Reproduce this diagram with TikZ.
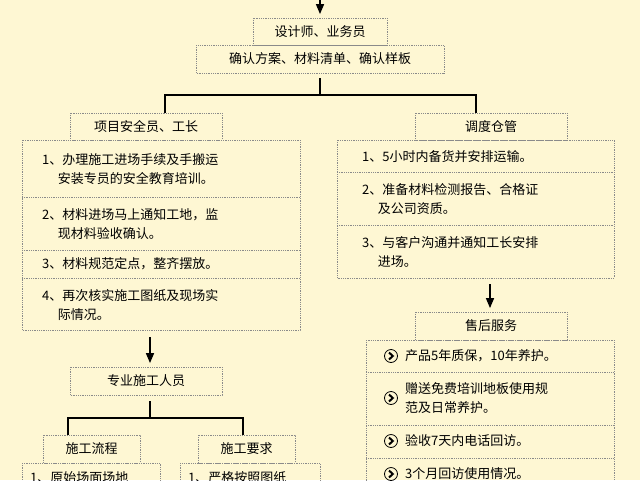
\documentclass[tikz,border=0pt]{standalone}
\usepackage{fontspec}
\setmainfont{Noto Sans CJK SC}
\usetikzlibrary{arrows}
\definecolor{mcream}{HTML}{FEF7D3}
\definecolor{mline}{HTML}{8A8A8A}
\tikzstyle{frame} = [draw=mline, densely dotted, line width=0.8pt]
\tikzstyle{label} = [font=\fontsize{13}{19}\selectfont, inner sep=0pt]
\tikzstyle{item} = [label, anchor=west, align=left]
\tikzstyle{link} = [line width=1.3pt]
\tikzstyle{arrow} = [line width=1.3pt, -triangle 45]
\tikzset{chev/.pic={\draw[line width=0.8pt] (0,0) circle (6.5); \draw[line width=2pt] (-2,-3.5) -- (1.8,0) -- (-2,3.5);}}

\begin{document}
\begin{tikzpicture}[x=1pt,y=-1pt]
  \fill[mcream] (0,0) rectangle (640,480);
  \useasboundingbox (0,0) rectangle (640,480);
  \begin{scope}
  \clip (0,0) rectangle (640,480);
  % top
  \coordinate (start) at (320,0);
  \draw[frame] (253,18) rectangle (387,45);
  \node (des) [label] at (320,31.5) {设计师、业务员};
  \draw[frame] (196,45) rectangle (444,73);
  \node (conf) [label] at (320,59) {确认方案、材料清单、确认样板};
  \draw[arrow] (start) -- (320,14);
  \draw[link] (320,78) -- (320,95);
  \draw[link] (165,113) -- (165,95) -- (476,95) -- (476,113);
  % left column
  \draw[frame] (70,113) rectangle (222,140);
  \node (safe) [label] at (146,126.5) {项目安全员、工长};
  \draw[frame] (22,140) rectangle (300,330);
  \draw[frame] (22,197) -- (300,197) (22,250) -- (300,250) (22,278) -- (300,278);
  \node (l1) [item] at (42,169) {1、办理施工进场手续及手搬运\\\hspace*{1.2em}安装专员的安全教育培训。};
  \node (l2) [item] at (42,224) {2、材料进场马上通知工地，监\\\hspace*{1.2em}现材料验收确认。};
  \node (l3) [item] at (42,264) {3、材料规范定点，整齐摆放。};
  \node (l4) [item] at (42,305) {4、再次核实施工图纸及现场实\\\hspace*{1.2em}际情况。};
  \draw[arrow] (150,337) -- (150,363);
  \draw[frame] (70,367) rectangle (222,395);
  \node (crew) [label] at (146,381) {专业施工人员};
  \draw[link] (150,401) -- (150,418);
  \draw[link] (68,435) -- (68,418) -- (243,418) -- (243,435);
  \draw[frame] (43,435) rectangle (140,463);
  \node (flow) [label] at (91.5,449) {施工流程};
  \draw[frame] (198,435) rectangle (295,463);
  \node (req) [label] at (246.5,449) {施工要求};
  \draw[frame] (22,463) rectangle (160,500);
  \draw[frame] (180,463) rectangle (320,500);
  \node (f1) [item] at (30,478) {1、原始场面场地};
  \node (r1) [item] at (188,478) {1、严格按照图纸};
  % right column
  \draw[frame] (415,113) rectangle (567,140);
  \node (disp) [label] at (491,126.5) {调度仓管};
  \draw[frame] (337,140) rectangle (614,278);
  \draw[frame] (337,172) -- (614,172) (337,225) -- (614,225);
  \node (d1) [item] at (362,157) {1、5小时内备货并安排运输。};
  \node (d2) [item] at (362,199) {2、准备材料检测报告、合格证\\\hspace*{1.2em}及公司资质。};
  \node (d3) [item] at (362,252) {3、与客户沟通并通知工长安排\\\hspace*{1.2em}进场。};
  \draw[arrow] (490,284) -- (490,308);
  \draw[frame] (415,312) rectangle (567,340);
  \node (after) [label] at (491,326) {售后服务};
  \draw[frame] (366,340) rectangle (614,500);
  \draw[frame] (366,372) -- (614,372) (366,425) -- (614,425) (366,458) -- (614,458);
  \pic at (391,356) {chev};
  \node (s1) [item] at (405,356) {产品5年质保，10年养护。};
  \pic at (391,398) {chev};
  \node (s2) [item] at (405,398) {赠送免费培训地板使用规\\范及日常养护。};
  \pic at (391,441) {chev};
  \node (s3) [item] at (405,441) {验收7天内电话回访。};
  \pic at (391,474) {chev};
  \node (s4) [item] at (405,474) {3个月回访使用情况。};
  \end{scope}
\end{tikzpicture}
\end{document}
